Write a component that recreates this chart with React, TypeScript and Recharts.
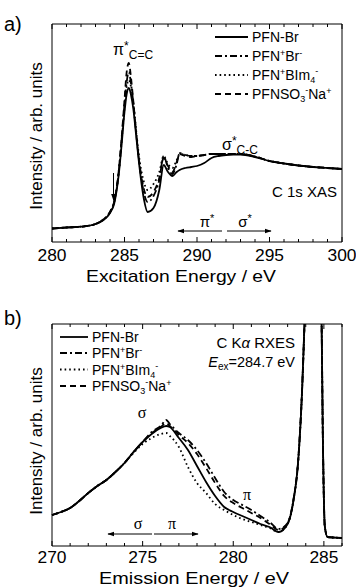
import { LineChart, Line, XAxis, YAxis, ReferenceArea } from 'recharts';

// C 1s XAS (panel a)
const xasEnergy = [280, 281, 282, 283, 283.5, 284, 284.3, 284.6, 284.8, 285.0, 285.15, 285.3, 285.45, 285.6, 285.8, 286.0, 286.3, 286.6, 287.0, 287.4, 287.7, 288.0, 288.3, 288.6, 288.8, 289.2, 289.6, 290.0, 290.5, 291, 291.5, 292, 292.5, 293, 294, 295, 296, 297, 298, 299, 300];
const xasPfnBr = [0.135, 0.145, 0.153, 0.18, 0.215, 0.29, 0.39, 0.67, 0.97, 1.30, 1.48, 1.54, 1.47, 1.34, 1.07, 0.79, 0.46, 0.30, 0.34, 0.52, 0.77, 0.70, 0.66, 0.70, 0.72, 0.74, 0.75, 0.76, 0.79, 0.84, 0.86, 0.87, 0.875, 0.875, 0.85, 0.81, 0.785, 0.765, 0.75, 0.74, 0.73];
const xasPfnBrIon = [0.135, 0.145, 0.153, 0.18, 0.22, 0.30, 0.41, 0.70, 1.02, 1.38, 1.60, 1.70, 1.58, 1.40, 1.10, 0.82, 0.52, 0.40, 0.46, 0.62, 0.86, 0.74, 0.68, 0.78, 0.89, 0.87, 0.86, 0.86, 0.87, 0.88, 0.88, 0.88, 0.88, 0.88, 0.855, 0.81, 0.785, 0.765, 0.75, 0.74, 0.73];
const xasPfnBim = [0.135, 0.145, 0.153, 0.18, 0.22, 0.30, 0.41, 0.69, 1.00, 1.34, 1.55, 1.62, 1.55, 1.40, 1.12, 0.86, 0.62, 0.52, 0.58, 0.70, 0.86, 0.78, 0.74, 0.82, 0.88, 0.87, 0.86, 0.86, 0.87, 0.88, 0.88, 0.88, 0.88, 0.88, 0.855, 0.81, 0.785, 0.765, 0.75, 0.74, 0.73];
const xasPfnSo3 = [0.135, 0.145, 0.153, 0.18, 0.22, 0.30, 0.41, 0.71, 1.04, 1.42, 1.70, 1.79, 1.64, 1.42, 1.10, 0.82, 0.55, 0.45, 0.50, 0.64, 0.84, 0.76, 0.70, 0.80, 0.88, 0.86, 0.85, 0.86, 0.87, 0.88, 0.88, 0.88, 0.88, 0.88, 0.855, 0.81, 0.785, 0.765, 0.75, 0.74, 0.73];
const xasTicks = [280, 281, 282, 283, 284, 285, 286, 287, 288, 289, 290, 291, 292, 293, 294, 295, 296, 297, 298, 299, 300];
const xasMajor = [280, 285, 290, 295, 300];

// C Ka RXES (panel b)
const rxesEnergy = [270, 270.5, 271, 271.5, 272, 272.5, 273, 273.5, 274, 274.5, 275, 275.5, 276, 276.3, 276.5, 277, 277.5, 278, 278.5, 279, 279.5, 280, 280.5, 281, 281.5, 282, 282.5, 283, 283.3, 283.6, 283.8, 284.0, 284.4, 284.85, 284.95, 285.05, 285.2, 285.5, 286];
const rxesPfnBr = [0.31, 0.34, 0.38, 0.45, 0.53, 0.60, 0.66, 0.74, 0.83, 0.94, 1.04, 1.12, 1.18, 1.20, 1.19, 1.08, 0.96, 0.80, 0.64, 0.50, 0.39, 0.34, 0.30, 0.26, 0.22, 0.19, 0.14, 0.22, 0.43, 0.89, 1.56, 2.6, 5, 2.6, 1.0, 0.2, 0.09, 0.085, 0.08];
const rxesPfnBrIon = [0.31, 0.34, 0.38, 0.45, 0.53, 0.60, 0.66, 0.74, 0.83, 0.94, 1.04, 1.14, 1.20, 1.26, 1.22, 1.13, 1.06, 0.96, 0.83, 0.68, 0.54, 0.46, 0.41, 0.36, 0.30, 0.24, 0.17, 0.23, 0.44, 0.90, 1.58, 2.6, 5, 2.6, 1.0, 0.2, 0.09, 0.085, 0.08];
const rxesPfnBim = [0.31, 0.34, 0.38, 0.45, 0.53, 0.60, 0.66, 0.74, 0.83, 0.93, 1.02, 1.08, 1.12, 1.13, 1.10, 0.99, 0.79, 0.63, 0.53, 0.42, 0.36, 0.31, 0.27, 0.24, 0.21, 0.18, 0.14, 0.22, 0.43, 0.89, 1.56, 2.6, 5, 2.6, 1.0, 0.2, 0.09, 0.085, 0.08];
const rxesPfnSo3 = [0.31, 0.34, 0.38, 0.45, 0.53, 0.60, 0.66, 0.74, 0.83, 0.94, 1.04, 1.13, 1.19, 1.23, 1.20, 1.11, 1.03, 0.92, 0.78, 0.63, 0.50, 0.43, 0.38, 0.33, 0.28, 0.22, 0.16, 0.23, 0.44, 0.90, 1.57, 2.6, 5, 2.6, 1.0, 0.2, 0.09, 0.085, 0.08];
const rxesTicks = [270, 271, 272, 273, 274, 275, 276, 277, 278, 279, 280, 281, 282, 283, 284, 285, 286];
const rxesMajor = [270, 275, 280, 285];

const FONT = '"Liberation Sans", Arial, Helvetica, sans-serif';
const SERIF = '"Liberation Serif", "Times New Roman", serif';

const xasData = xasEnergy.map((e, i) => ({ e, a: xasPfnBr[i], b: xasPfnBrIon[i], c: xasPfnBim[i], d: xasPfnSo3[i] }));
const rxesData = rxesEnergy.map((e, i) => ({ e, a: rxesPfnBr[i], b: rxesPfnBrIon[i], c: rxesPfnBim[i], d: rxesPfnSo3[i] }));

const styles = [
  { key: 'a', dash: undefined },
  { key: 'b', dash: '7 3 2 3' },
  { key: 'c', dash: '1.6 3' },
  { key: 'd', dash: '6 4' },
];

// inward ticks, long for majors; labels only under the bottom axis
const makeTick = (majors: number[], side: 'bottom' | 'top', labelDy: number) => (props: any) => {
  const { x, y, payload } = props;
  const major = majors.includes(payload.value);
  const len = major ? 5 : 3;
  return (
    <g>
      <line x1={x} x2={x} y1={y} y2={side === 'bottom' ? y - len : y + len} stroke="#000" strokeWidth={1} />
      {side === 'bottom' && major && (
        <text x={x} y={y + labelDy} textAnchor="middle" fontSize={17} fontFamily={FONT} fill="#000"
          textLength={29} lengthAdjust="spacingAndGlyphs">
          {payload.value}
        </text>
      )}
    </g>
  );
};

function Series() {
  return styles.map(s => (
    <Line
      key={s.key}
      dataKey={s.key}
      type="monotone"
      stroke="#000"
      strokeWidth={1.8}
      strokeDasharray={s.dash}
      dot={false}
      isAnimationActive={false}
    />
  ));
}

function LegendRows({ x1, x2, tx, ys }: { x1: number; x2: number; tx: number; ys: number[] }) {
  const sup = { fontSize: 9 };
  const labels = [
    <>PFN-Br</>,
    <>PFN<tspan dy={-5} style={sup}>+</tspan><tspan dy={5}>Br</tspan><tspan dy={-5} style={sup}>-</tspan></>,
    <>PFN<tspan dy={-5} style={sup}>+</tspan><tspan dy={5}>BIm</tspan><tspan dy={3} style={sup}>4</tspan><tspan dy={-9} style={sup}>-</tspan></>,
    <>PFNSO<tspan dy={3} style={sup}>3</tspan><tspan dy={-9} style={sup}>-</tspan><tspan dy={6}>Na</tspan><tspan dy={-5} style={sup}>+</tspan></>,
  ];
  return (
    <g>
      {ys.map((y, i) => (
        <g key={i}>
          <line x1={x1} x2={x2} y1={y} y2={y} stroke="#000" strokeWidth={1.8} strokeDasharray={styles[i].dash} />
          <text x={tx} y={y + 5} fontSize={14} fontFamily={FONT} fill="#000">{labels[i]}</text>
        </g>
      ))}
    </g>
  );
}

export default function App() {
  return (
    <div style={{ position: 'absolute', left: 0, top: 0, width: 356, height: 587, background: '#fff' }}>
      <div style={{ position: 'absolute', left: 0, top: 0 }}>
        <LineChart width={356} height={290} data={xasData} margin={{ top: 4, right: 14, bottom: 0, left: 52 }}>
          <XAxis dataKey="e" type="number" domain={[280, 300]} ticks={xasTicks} interval={0} height={48}
            axisLine={false} tickLine={false} tickSize={0} tickMargin={0} tick={makeTick(xasMajor, 'bottom', 19)} />
          <XAxis xAxisId="top" orientation="top" dataKey="e" type="number" domain={[280, 300]} ticks={xasTicks} interval={0} height={20}
            axisLine={false} tickLine={false} tickSize={0} tickMargin={0} tick={makeTick(xasMajor, 'top', 0)} />
          <YAxis hide width={0} type="number" domain={[0, 2.18]} allowDataOverflow />
          <ReferenceArea x1={280} x2={300} y1={0} y2={2.18} fill="none" stroke="#000" strokeWidth={1} />
          {Series()}
        </LineChart>
      </div>
      <div style={{ position: 'absolute', left: 0, top: 290 }}>
        <LineChart width={356} height={297} data={rxesData} margin={{ top: 14, right: 14, bottom: 0, left: 52 }}>
          <XAxis dataKey="e" type="number" domain={[270, 286]} ticks={rxesTicks} interval={0} height={41}
            axisLine={false} tickLine={false} tickSize={0} tickMargin={0} tick={makeTick(rxesMajor, 'bottom', 17)} />
          <XAxis xAxisId="top" orientation="top" dataKey="e" type="number" domain={[270, 286]} ticks={rxesTicks} interval={0} height={20}
            axisLine={false} tickLine={false} tickSize={0} tickMargin={0} tick={makeTick(rxesMajor, 'top', 0)} />
          <YAxis hide width={0} type="number" domain={[0, 2.22]} allowDataOverflow />
          <ReferenceArea x1={270} x2={286} y1={0} y2={2.22} fill="none" stroke="#000" strokeWidth={1} />
          {Series()}
        </LineChart>
      </div>

      {/* labels, legends and annotations */}
      <svg width={356} height={587} style={{ position: 'absolute', left: 0, top: 0, pointerEvents: 'none' }}>
        <defs>
          <marker id="head" viewBox="0 0 10 10" refX="9" refY="5" markerWidth="7" markerHeight="7" orient="auto-start-reverse">
            <path d="M0,1.5 L10,5 L0,8.5 z" fill="#000" />
          </marker>
        </defs>
        <g fontFamily={FONT} fill="#000">
          <text x={4} y={31} fontSize={20}>a)</text>
          <text x={4} y={325} fontSize={20}>b)</text>

          <text transform="translate(42,136) rotate(-90)" textAnchor="middle" fontSize={17}>Intensity / arb. units</text>
          <text transform="translate(42,441) rotate(-90)" textAnchor="middle" fontSize={17}>Intensity / arb. units</text>
          <text x={181} y={282} textAnchor="middle" fontSize={17} textLength={190} lengthAdjust="spacingAndGlyphs">Excitation Energy / eV</text>
          <text x={194} y={584} textAnchor="middle" fontSize={17} textLength={190} lengthAdjust="spacingAndGlyphs">Emission Energy / eV</text>

          {/* panel a */}
          <text x={113} y={55} fontSize={16}>π<tspan dy={-5} fontSize={12}>*</tspan><tspan dy={9} fontSize={12}>C=C</tspan></text>
          <text x={222} y={150} fontSize={16}>σ<tspan dy={-5} fontSize={12}>*</tspan><tspan dy={9} fontSize={12}>C-C</tspan></text>
          <text x={337} y={197} textAnchor="end" fontSize={15}>C 1s XAS</text>
          <line x1={113.5} y1={173} x2={113.5} y2={200} stroke="#000" strokeWidth={1} markerEnd="url(#head)" />
          <line x1={222} y1={231} x2={178} y2={231} stroke="#000" strokeWidth={1} markerEnd="url(#head)" />
          <line x1={227} y1={231} x2={271} y2={231} stroke="#000" strokeWidth={1} markerEnd="url(#head)" />
          <text x={207} y={227} textAnchor="middle" fontSize={15}>π<tspan dy={-5} fontSize={11}>*</tspan></text>
          <text x={245} y={227} textAnchor="middle" fontSize={15}>σ<tspan dy={-5} fontSize={11}>*</tspan></text>
          <LegendRows x1={215} x2={248} tx={252} ys={[37, 56, 75, 94]} />

          {/* panel b */}
          <text x={295} y={348} textAnchor="end" fontSize={15}>C K<tspan fontStyle="italic">α</tspan> RXES</text>
          <text x={295} y={367} textAnchor="end" fontSize={14.5}><tspan fontStyle="italic">E</tspan><tspan dy={3} fontSize={10}>ex</tspan><tspan dy={-3}>=284.7 eV</tspan></text>
          <text x={142} y={418} textAnchor="middle" fontSize={16} fontFamily={SERIF}>σ</text>
          <text x={247} y={500} textAnchor="middle" fontSize={16} fontFamily={SERIF}>π</text>
          <line x1={152} y1={534} x2={108} y2={534} stroke="#000" strokeWidth={1} markerEnd="url(#head)" />
          <line x1={154} y1={534} x2={198} y2={534} stroke="#000" strokeWidth={1} markerEnd="url(#head)" />
          <text x={138} y={529} textAnchor="middle" fontSize={16} fontFamily={SERIF}>σ</text>
          <text x={172} y={529} textAnchor="middle" fontSize={16} fontFamily={SERIF}>π</text>
          <LegendRows x1={60} x2={88} tx={92} ys={[337, 353, 369.5, 386]} />
        </g>
      </svg>
    </div>
  );
}
